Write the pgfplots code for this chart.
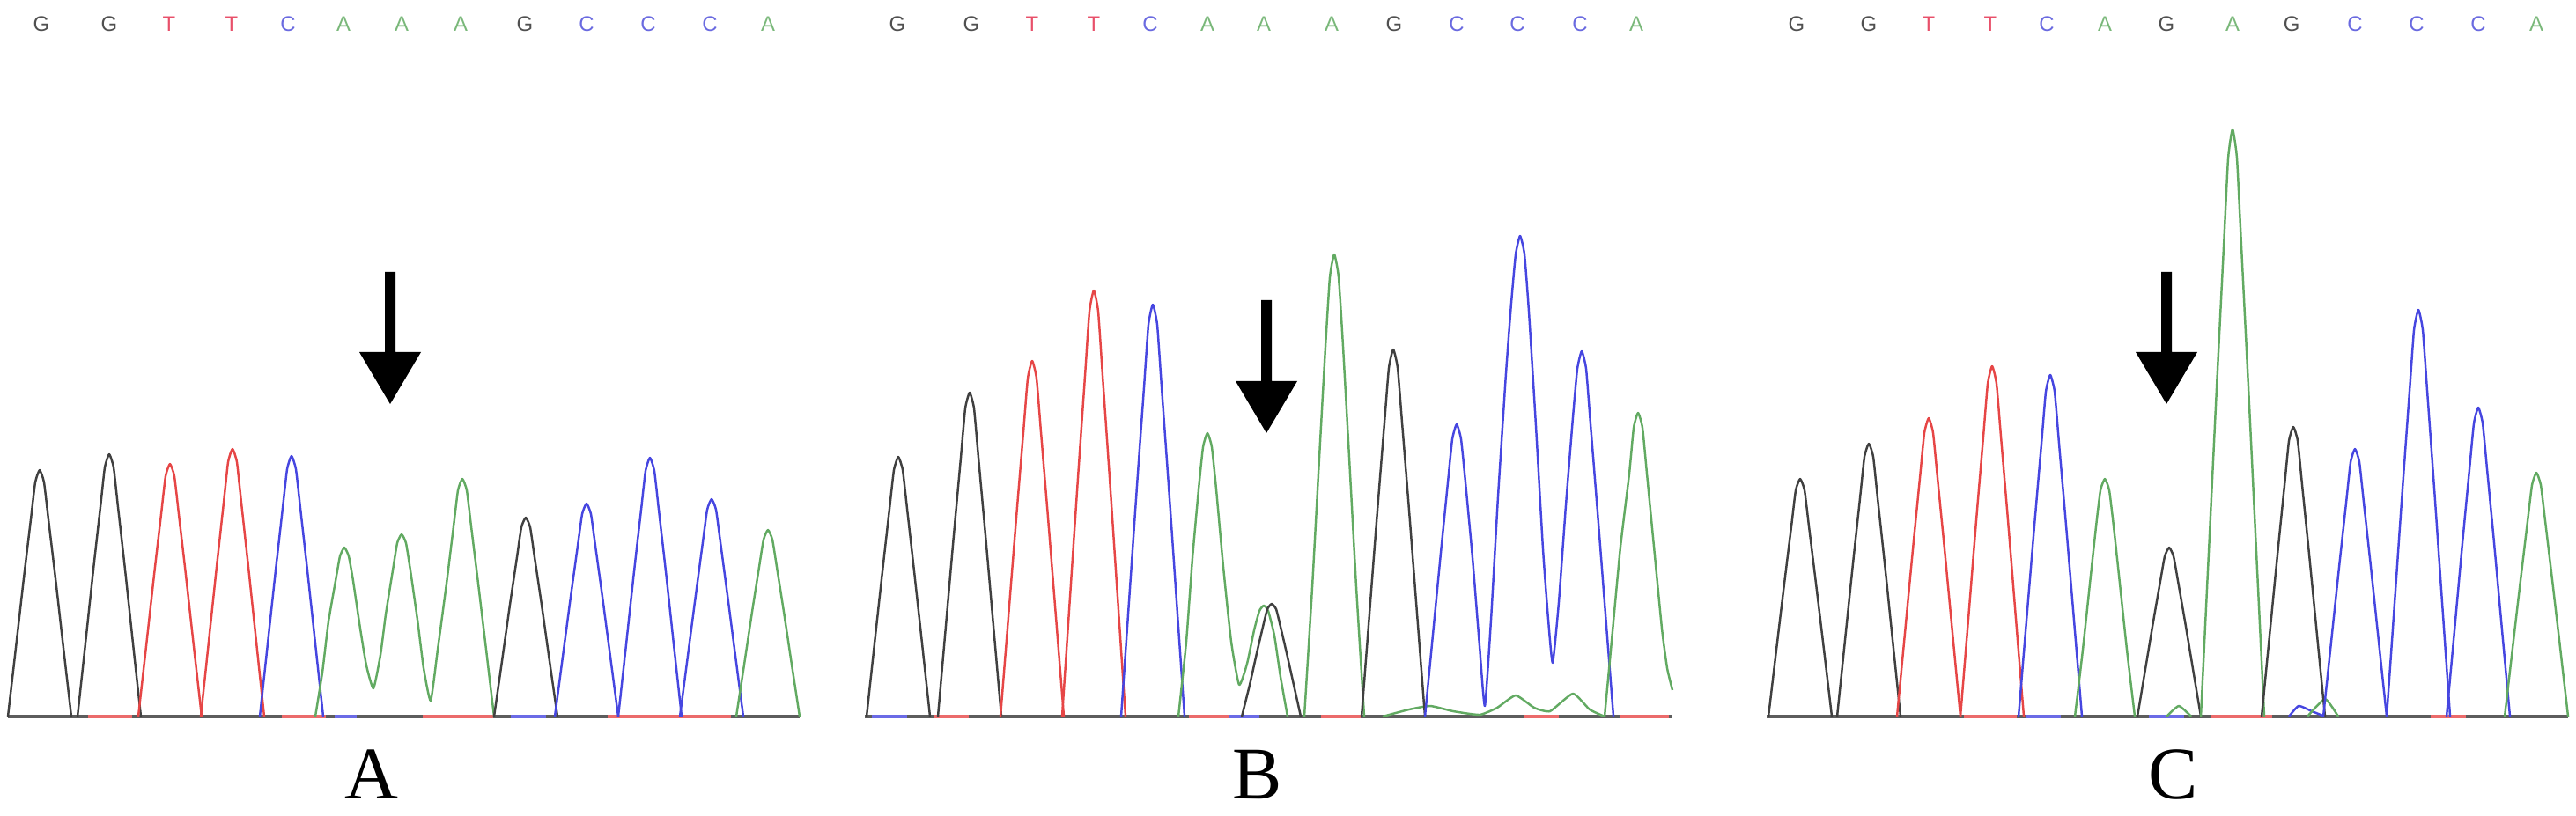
\documentclass[border=0pt]{standalone}
\usepackage{fontspec}
\setmainfont{Liberation Serif}
\newfontfamily\letfont{Liberation Sans}
\usepackage{pgfplots}
\pgfplotsset{compat=1.18}
\definecolor{trG}{HTML}{404040}
\definecolor{trT}{HTML}{E64646}
\definecolor{trC}{HTML}{4646E0}
\definecolor{trA}{HTML}{62AA62}
\definecolor{lG}{HTML}{505050}
\definecolor{lT}{HTML}{E8506A}
\definecolor{lC}{HTML}{6A6AE0}
\definecolor{lA}{HTML}{7AB87A}
\begin{document}
\begin{tikzpicture}
\useasboundingbox (0,0) rectangle (29.25cm,9.26cm);
\tikzset{bl/.style={font=\letfont\fontsize{6.8}{8}\selectfont, inner sep=0pt, anchor=center},
  lab/.style={font=\fontsize{24}{28}\selectfont, inner sep=0pt, anchor=base, text depth=0pt}}
\begin{axis}[
  at={(0,0)}, anchor=south west,
  width=29.25cm, height=9.26cm, scale only axis,
  xmin=0, xmax=2925, ymin=-112, ymax=814,
  hide axis, clip=false,
  every axis plot/.append style={line width=0.7pt, line join=round},
  pk/.style={smooth, tension=0.3},
]
% ---------- baselines ----------
\addplot[trG!85, line width=1.2pt] coordinates {(9,0)(908,0)};
\addplot[trG!85, line width=1.2pt] coordinates {(982,0)(1899,0)};
\addplot[trG!85, line width=1.2pt] coordinates {(2006,0)(2916,0)};
\addplot[trT!80, line width=0.9pt] coordinates {(100,0)(150,0)};
\addplot[trT!80, line width=0.9pt] coordinates {(320,0)(370,0)};
\addplot[trT!80, line width=0.9pt] coordinates {(480,0)(560,0)};
\addplot[trT!80, line width=0.9pt] coordinates {(690,0)(830,0)};
\addplot[trC!80, line width=0.9pt] coordinates {(380,0)(405,0)};
\addplot[trC!80, line width=0.9pt] coordinates {(580,0)(620,0)};
\addplot[trT!80, line width=0.9pt] coordinates {(1060,0)(1100,0)};
\addplot[trC!80, line width=0.9pt] coordinates {(990,0)(1030,0)};
\addplot[trT!80, line width=0.9pt] coordinates {(1350,0)(1395,0)};
\addplot[trC!80, line width=0.9pt] coordinates {(1395,0)(1430,0)};
\addplot[trT!80, line width=0.9pt] coordinates {(1500,0)(1545,0)};
\addplot[trT!80, line width=0.9pt] coordinates {(1730,0)(1770,0)};
\addplot[trT!80, line width=0.9pt] coordinates {(1840,0)(1895,0)};
\addplot[trT!80, line width=0.9pt] coordinates {(2230,0)(2290,0)};
\addplot[trC!80, line width=0.9pt] coordinates {(2300,0)(2340,0)};
\addplot[trT!80, line width=0.9pt] coordinates {(2510,0)(2580,0)};
\addplot[trC!80, line width=0.9pt] coordinates {(2440,0)(2480,0)};
\addplot[trT!80, line width=0.9pt] coordinates {(2760,0)(2800,0)};
% ---------- panel A ----------
\addplot[trG,pk] coordinates {(9,0)(18,78)(27,157)(35,224)(40,266)(45,280)(50,266)(55,224)(63,157)(72,78)(81,0)};
\addplot[trG,pk] coordinates {(88,0)(97,83)(106,167)(114,238)(119,283)(124,298)(129,283)(134,238)(142,167)(151,83)(160,0)};
\addplot[trT,pk] coordinates {(157,0)(166,80)(175,161)(183,230)(188,273)(193,287)(198,273)(203,230)(211,161)(220,80)(229,0)};
\addplot[trT,pk] coordinates {(228,0)(237,85)(246,170)(254,243)(259,289)(264,304)(269,289)(274,243)(282,170)(291,85)(300,0)};
\addplot[trC,pk] coordinates {(295,0)(304,83)(313,166)(321,237)(326,281)(331,296)(336,281)(341,237)(349,166)(358,83)(367,0)};
\addplot[trA,pk] coordinates {(358,0)(366,50)(373,108)(381,154)(386,182)(391,192)(396,182)(401,154)(409,100)(416,58)(424,32)(432,70)(438,116)(446,166)(451,197)(456,207)(461,197)(466,166)(474,110)(481,55)(489,18)(497,76)(507,151)(515,216)(520,257)(525,270)(530,257)(535,216)(543,151)(552,76)(561,0)};
\addplot[trG,pk] coordinates {(561,0)(570,63)(579,127)(587,181)(592,215)(597,226)(602,215)(607,181)(615,127)(624,63)(633,0)};
\addplot[trC,pk] coordinates {(630,0)(639,68)(648,136)(656,194)(661,230)(666,242)(671,230)(676,194)(684,136)(693,68)(702,0)};
\addplot[trC,pk] coordinates {(702,0)(711,82)(720,165)(728,235)(733,279)(738,294)(743,279)(748,235)(756,165)(765,82)(774,0)};
\addplot[trC,pk] coordinates {(772,0)(781,69)(790,138)(798,198)(803,235)(808,247)(813,235)(818,198)(826,138)(835,69)(844,0)};
\addplot[trA,pk] coordinates {(836,0)(845,59)(854,119)(862,170)(867,201)(872,212)(877,201)(882,170)(890,119)(899,59)(908,0)};
% ---------- panel B ----------
\addplot[trA,pk] coordinates {(1570,0)(1600,8)(1624,12)(1650,6)(1680,2)(1700,10)(1721,24)(1742,10)(1760,6)(1786,26)(1805,8)(1822,0)};
\addplot[trG,pk] coordinates {(984,0)(993,83)(1002,165)(1010,236)(1015,280)(1020,295)(1025,280)(1030,236)(1038,165)(1047,83)(1056,0)};
\addplot[trG,pk] coordinates {(1065,0)(1074,103)(1083,206)(1091,294)(1096,350)(1101,368)(1106,350)(1111,294)(1119,206)(1128,103)(1137,0)};
\addplot[trT,pk] coordinates {(1136,0)(1145,113)(1154,226)(1162,323)(1167,384)(1172,404)(1177,384)(1182,323)(1190,226)(1199,113)(1208,0)};
\addplot[trT,pk] coordinates {(1206,0)(1215,136)(1224,271)(1232,387)(1237,460)(1242,484)(1247,460)(1252,387)(1260,271)(1269,136)(1278,0)};
\addplot[trC,pk] coordinates {(1273,0)(1282,131)(1291,262)(1299,374)(1304,445)(1309,468)(1314,445)(1319,374)(1327,262)(1336,131)(1345,0)};
\addplot[trA,pk] coordinates {(1338,0)(1347,85)(1354,180)(1361,258)(1366,306)(1371,322)(1376,306)(1381,258)(1389,170)(1398,85)(1407,36)(1416,60)(1424,98)(1430,120)(1435,126)(1440,120)(1447,92)(1454,45)(1462,0)};
\addplot[trG,pk] coordinates {(1410,0)(1419,36)(1427,72)(1434,102)(1439,122)(1444,128)(1449,122)(1454,102)(1461,72)(1469,36)(1477,0)};
\addplot[trA,pk] coordinates {(1481,0)(1490,147)(1498,294)(1505,420)(1510,499)(1515,525)(1520,499)(1525,420)(1532,294)(1540,147)(1549,0)};
\addplot[trG,pk] coordinates {(1546,0)(1555,117)(1564,234)(1572,334)(1577,396)(1582,417)(1587,396)(1592,334)(1600,234)(1609,117)(1618,0)};
\addplot[trC,pk] coordinates {(1618,0)(1627,93)(1636,186)(1644,266)(1649,315)(1654,332)(1659,315)(1664,266)(1672,180)(1680,80)(1686,12)(1693,110)(1701,250)(1710,390)(1716,470)(1721,525)(1726,546)(1731,525)(1736,460)(1744,330)(1752,190)(1758,110)(1763,61)(1770,130)(1778,240)(1786,340)(1791,395)(1796,415)(1801,395)(1806,332)(1814,232)(1823,116)(1832,0)};
\addplot[trA,pk] coordinates {(1822,0)(1831,97)(1840,193)(1850,276)(1855,328)(1860,345)(1865,328)(1870,276)(1878,193)(1887,100)(1893,55)(1899,30)};
% ---------- panel C ----------
\addplot[trA,pk] coordinates {(2460,0)(2474,12)(2488,0)};
\addplot[trC,pk] coordinates {(2599,0)(2610,12)(2625,6)(2640,0)};
\addplot[trA,pk] coordinates {(2620,0)(2640,20)(2655,0)};
\addplot[trG,pk] coordinates {(2008,0)(2017,76)(2026,151)(2034,216)(2039,257)(2044,270)(2049,257)(2054,216)(2062,151)(2071,76)(2080,0)};
\addplot[trG,pk] coordinates {(2086,0)(2095,87)(2104,174)(2112,248)(2117,295)(2122,310)(2127,295)(2132,248)(2140,174)(2149,87)(2158,0)};
\addplot[trT,pk] coordinates {(2154,0)(2163,95)(2172,190)(2180,271)(2185,322)(2190,339)(2195,322)(2200,271)(2208,190)(2217,95)(2226,0)};
\addplot[trT,pk] coordinates {(2226,0)(2235,111)(2244,223)(2252,318)(2257,378)(2262,398)(2267,378)(2272,318)(2280,223)(2289,111)(2298,0)};
\addplot[trC,pk] coordinates {(2292,0)(2301,109)(2310,217)(2318,310)(2323,369)(2328,388)(2333,369)(2338,310)(2346,217)(2355,109)(2364,0)};
\addplot[trA,pk] coordinates {(2356,0)(2365,76)(2373,151)(2380,216)(2385,257)(2390,270)(2395,257)(2400,216)(2407,151)(2415,76)(2424,0)};
\addplot[trG,pk] coordinates {(2427,0)(2436,54)(2445,108)(2453,154)(2458,182)(2463,192)(2468,182)(2473,154)(2481,108)(2490,54)(2499,0)};
\addplot[trA,pk] coordinates {(2499,0)(2508,187)(2517,374)(2525,534)(2530,634)(2535,667)(2540,634)(2545,534)(2553,374)(2562,187)(2571,0)};
\addplot[trG,pk] coordinates {(2568,0)(2577,92)(2586,184)(2594,263)(2599,313)(2604,329)(2609,313)(2614,263)(2622,184)(2631,92)(2640,0)};
\addplot[trC,pk] coordinates {(2638,0)(2647,85)(2656,170)(2664,243)(2669,289)(2674,304)(2679,289)(2684,243)(2692,170)(2701,85)(2710,0)};
\addplot[trC,pk] coordinates {(2710,0)(2719,129)(2728,259)(2736,370)(2741,439)(2746,462)(2751,439)(2756,370)(2764,259)(2773,129)(2782,0)};
\addplot[trC,pk] coordinates {(2778,0)(2787,98)(2796,197)(2804,281)(2809,333)(2814,351)(2819,333)(2824,281)(2832,197)(2841,98)(2850,0)};
\addplot[trA,pk] coordinates {(2844,0)(2853,78)(2862,155)(2870,222)(2875,263)(2880,277)(2885,263)(2890,222)(2898,155)(2907,78)(2916,0)};
% ---------- arrows ----------
\fill[black] (axis cs:437,505) -- (axis cs:449,505) -- (axis cs:449,414) -- (axis cs:478,414) -- (axis cs:443,355) -- (axis cs:408,414) -- (axis cs:437,414) -- cycle;
\fill[black] (axis cs:1432,473) -- (axis cs:1444,473) -- (axis cs:1444,381) -- (axis cs:1473,381) -- (axis cs:1438,322) -- (axis cs:1403,381) -- (axis cs:1432,381) -- cycle;
\fill[black] (axis cs:2454,505) -- (axis cs:2466,505) -- (axis cs:2466,414) -- (axis cs:2495,414) -- (axis cs:2460,355) -- (axis cs:2425,414) -- (axis cs:2454,414) -- cycle;
% ---------- base letters ----------
\foreach \x/\c/\l in {47/lG/G,124/lG/G,192/lT/T,263/lT/T,327/lC/C,390/lA/A,456/lA/A,523/lA/A,596/lG/G,666/lC/C,736/lC/C,806/lC/C,872/lA/A,
  1019/lG/G,1103/lG/G,1172/lT/T,1242/lT/T,1306/lC/C,1371/lA/A,1435/lA/A,1512/lA/A,1583/lG/G,1654/lC/C,1723/lC/C,1794/lC/C,1858/lA/A,
  2040/lG/G,2122/lG/G,2190/lT/T,2260/lT/T,2324/lC/C,2390/lA/A,2460/lG/G,2535/lA/A,2602/lG/G,2674/lC/C,2744/lC/C,2814/lC/C,2880/lA/A}
  {\edef\temp{\noexpand\node[bl, text=\c] at (axis cs:\x,787) {\l};}\temp}
% ---------- panel labels ----------
\node[lab] at (axis cs:422,-93) {A};
\node[lab] at (axis cs:1428,-93) {B};
\node[lab] at (axis cs:2468,-93) {C};
\end{axis}
\end{tikzpicture}
\end{document}
